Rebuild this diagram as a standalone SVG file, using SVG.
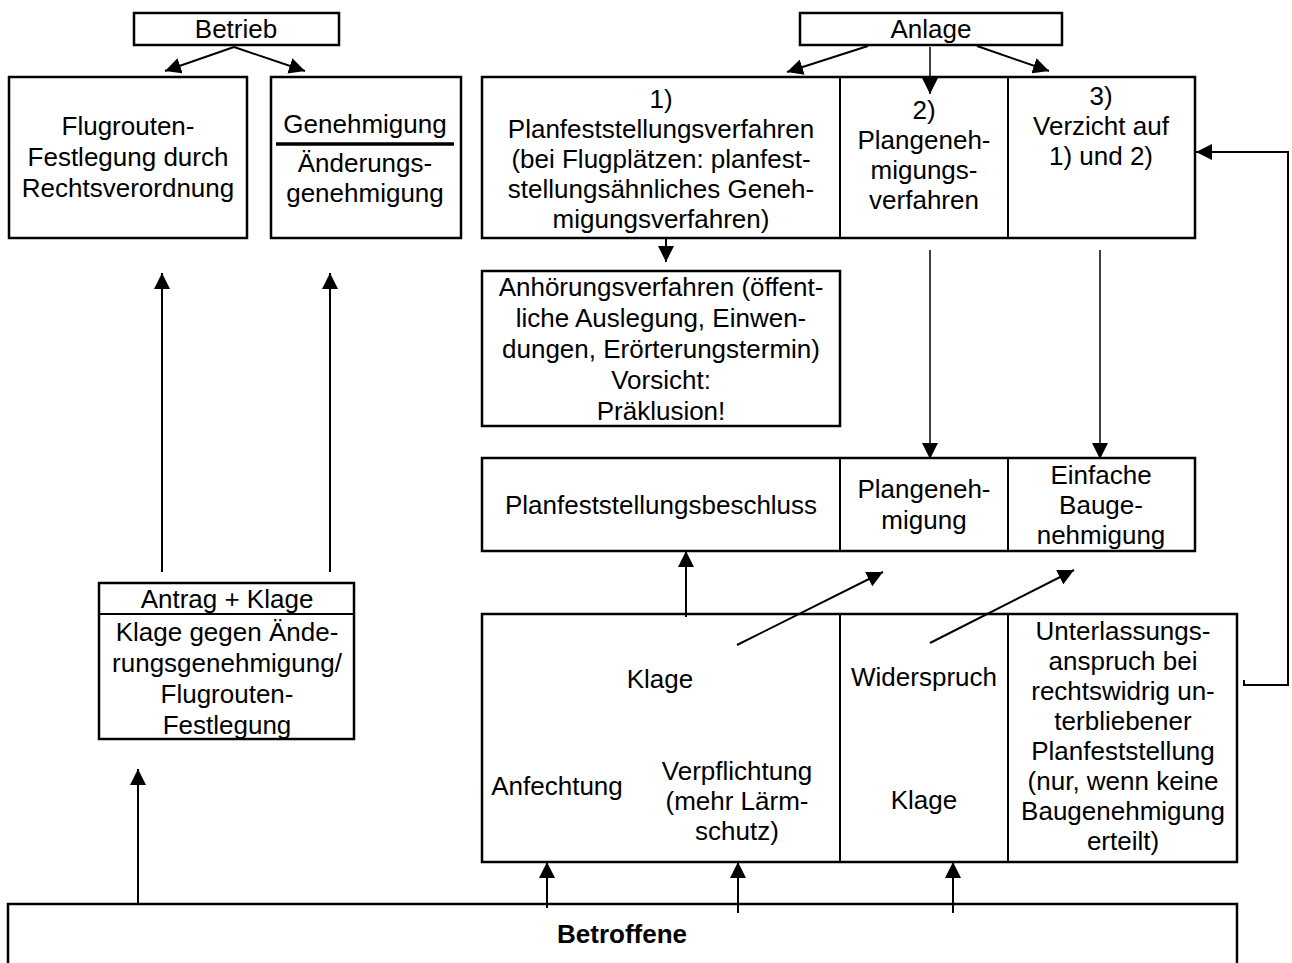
<svg xmlns="http://www.w3.org/2000/svg" width="1292" height="963" viewBox="0 0 1292 963">
<style>
.b{fill:#fff;stroke:#000;stroke-width:2.5}
.d{stroke:#000;stroke-width:2}
text{font-family:"Liberation Sans",Arial,sans-serif;font-size:26px;fill:#000;text-anchor:middle}
.bold{font-weight:bold}
.c{fill:none;stroke:#000;stroke-width:2;marker-end:url(#ah)}
.t{fill:none;stroke:#000;stroke-width:1.5;marker-end:url(#ah)}
</style>
<defs>
<marker id="ah" viewBox="0 0 16 16" refX="16" refY="8" markerWidth="16" markerHeight="16" markerUnits="userSpaceOnUse" orient="auto">
<path d="M0,0 L16,8 L0,16 z" fill="#000"/>
</marker>
</defs>
<rect width="1292" height="963" fill="#fff"/>

<g id="betrieb">
<rect class="b" x="134" y="13" width="205" height="32"/>
<text x="236" y="38">Betrieb</text>
</g>
<g id="flugrouten">
<rect class="b" x="9" y="77" width="238" height="161"/>
<text x="128" y="135">Flugrouten-</text>
<text x="128" y="166">Festlegung durch</text>
<text x="128" y="197">Rechtsverordnung</text>
</g>
<g id="genehmigung">
<rect class="b" x="271" y="77" width="190" height="161"/>
<text x="365" y="133">Genehmigung</text>
<line x1="276" y1="144" x2="454" y2="144" stroke="#000" stroke-width="3.5"/>
<text x="365" y="172">Änderungs-</text>
<text x="365" y="202">genehmigung</text>
</g>

<g id="anlage">
<rect class="b" x="800" y="13" width="262" height="32"/>
<text x="931" y="38">Anlage</text>
</g>
<g id="verfahren">
<rect class="b" x="482" y="77" width="713" height="161"/>
<line class="d" x1="840" y1="77" x2="840" y2="238"/>
<line class="d" x1="1008" y1="77" x2="1008" y2="238"/>
<text x="661" y="108">1)</text>
<text x="661" y="138">Planfeststellungsverfahren</text>
<text x="661" y="168">(bei Flugplätzen: planfest-</text>
<text x="661" y="198">stellungsähnliches Geneh-</text>
<text x="661" y="228">migungsverfahren)</text>
<text x="924" y="119">2)</text>
<text x="924" y="149">Plangeneh-</text>
<text x="924" y="179">migungs-</text>
<text x="924" y="209">verfahren</text>
<text x="1101" y="105">3)</text>
<text x="1101" y="135">Verzicht auf</text>
<text x="1101" y="165">1) und 2)</text>
</g>
<g id="anhoerung">
<rect class="b" x="482" y="271" width="358" height="155"/>
<text x="661" y="296">Anhörungsverfahren (öffent-</text>
<text x="661" y="327">liche Auslegung, Einwen-</text>
<text x="661" y="358">dungen, Erörterungstermin)</text>
<text x="661" y="389">Vorsicht:</text>
<text x="661" y="420">Präklusion!</text>
</g>
<g id="entscheidung">
<rect class="b" x="482" y="458" width="713" height="93"/>
<line class="d" x1="840" y1="458" x2="840" y2="551"/>
<line class="d" x1="1008" y1="458" x2="1008" y2="551"/>
<text x="661" y="514">Planfeststellungsbeschluss</text>
<text x="924" y="498">Plangeneh-</text>
<text x="924" y="529">migung</text>
<text x="1101" y="484">Einfache</text>
<text x="1101" y="514">Bauge-</text>
<text x="1101" y="544">nehmigung</text>
</g>
<g id="rechtsschutz">
<rect class="b" x="482" y="614" width="755" height="248"/>
<line class="d" x1="840" y1="614" x2="840" y2="862"/>
<line class="d" x1="1008" y1="614" x2="1008" y2="862"/>
<text x="660" y="688">Klage</text>
<text x="557" y="795">Anfechtung</text>
<text x="737" y="780">Verpflichtung</text>
<text x="737" y="810">(mehr Lärm-</text>
<text x="737" y="840">schutz)</text>
<text x="924" y="686">Widerspruch</text>
<text x="924" y="809">Klage</text>
<text x="1123" y="640">Unterlassungs-</text>
<text x="1123" y="670">anspruch bei</text>
<text x="1123" y="700">rechtswidrig un-</text>
<text x="1123" y="730">terbliebener</text>
<text x="1123" y="760">Planfeststellung</text>
<text x="1123" y="790">(nur, wenn keine</text>
<text x="1123" y="820">Baugenehmigung</text>
<text x="1123" y="850">erteilt)</text>
</g>
<g id="antrag">
<rect class="b" x="99" y="583" width="255" height="156"/>
<line class="d" x1="99" y1="614" x2="354" y2="614"/>
<text x="227" y="608">Antrag + Klage</text>
<text x="227" y="641">Klage gegen Ände-</text>
<text x="227" y="672">rungsgenehmigung/</text>
<text x="227" y="703">Flugrouten-</text>
<text x="227" y="734">Festlegung</text>
</g>
<g id="betroffene">
<rect class="b" x="8" y="904" width="1229" height="80"/>
<text class="bold" x="622" y="943">Betroffene</text>
</g>

<g id="connectors">
<line class="c" x1="234" y1="47" x2="165" y2="71"/>
<line class="c" x1="234" y1="47" x2="305" y2="71"/>
<line class="c" x1="868" y1="46" x2="787" y2="72"/>
<line class="t" x1="930" y1="47" x2="930" y2="94"/>
<line class="c" x1="977" y1="46" x2="1049" y2="71"/>
<line class="c" x1="666" y1="238" x2="666" y2="262"/>
<line class="t" x1="930" y1="250" x2="930" y2="459"/>
<line class="t" x1="1100" y1="250" x2="1100" y2="459"/>
<line class="c" x1="686" y1="617" x2="686" y2="551"/>
<line class="c" x1="737" y1="645" x2="883" y2="572"/>
<line class="c" x1="930" y1="643" x2="1074" y2="570"/>
<polyline class="c" points="1244,680 1244,685 1288,685 1288,152 1196,152"/>
<line class="c" x1="162" y1="572" x2="162" y2="273"/>
<line class="c" x1="330" y1="572" x2="330" y2="273"/>
<line class="c" x1="138" y1="904" x2="138" y2="769"/>
<line class="c" x1="547" y1="908" x2="547" y2="862"/>
<line class="c" x1="738" y1="913" x2="738" y2="862"/>
<line class="c" x1="953" y1="913" x2="953" y2="862"/>
</g>
</svg>
